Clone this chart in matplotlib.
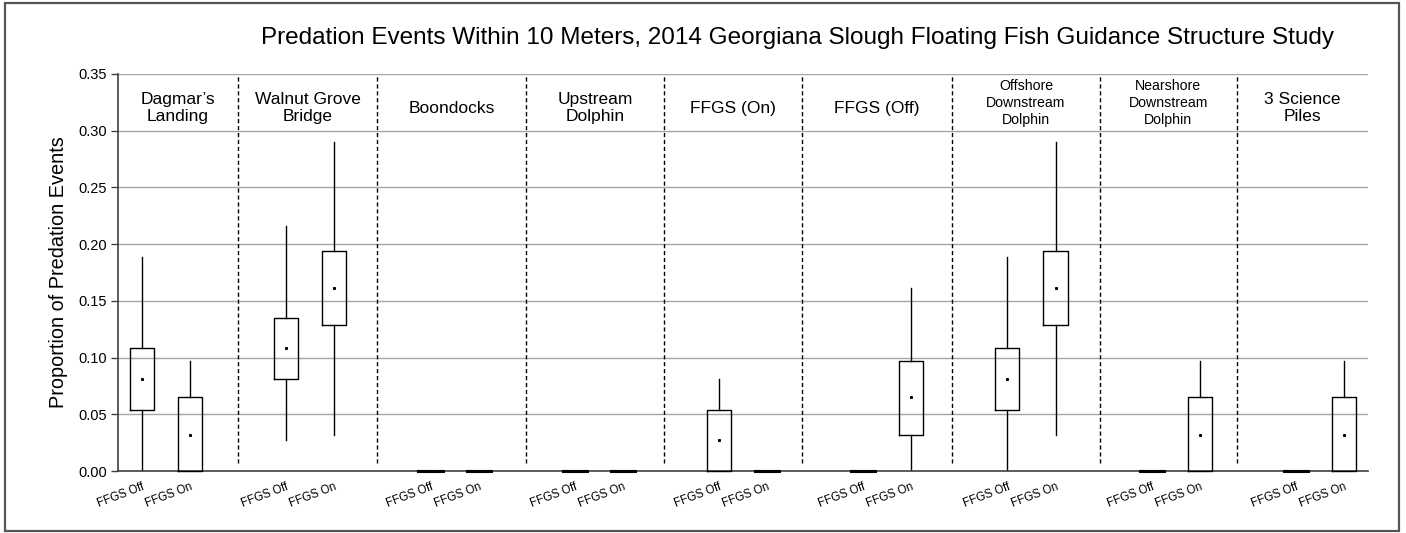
import matplotlib
matplotlib.use("Agg")
import matplotlib.pyplot as plt
from matplotlib.patches import Rectangle

plt.rcParams['font.family'] = ['Liberation Sans', 'DejaVu Sans']

title = "Predation Events Within 10 Meters, 2014 Georgiana Slough Floating Fish Guidance Structure Study"
ylabel = "Proportion of Predation Events"
groups = ["Dagmar\u2019s\nLanding", "Walnut Grove\nBridge", "Boondocks", "Upstream\nDolphin",
          "FFGS (On)", "FFGS (Off)", "Offshore\nDownstream\nDolphin",
          "Nearshore\nDownstream\nDolphin", "3 Science\nPiles"]
conditions = ["FFGS Off", "FFGS On"]

# five-number summaries per group: [whislo, q1, median, q3, whishi]
off_stats = [
    [0.000, 0.054, 0.081, 0.108, 0.189],
    [0.027, 0.081, 0.108, 0.135, 0.216],
    [0.000, 0.000, 0.000, 0.000, 0.000],
    [0.000, 0.000, 0.000, 0.000, 0.000],
    [0.000, 0.000, 0.027, 0.054, 0.081],
    [0.000, 0.000, 0.000, 0.000, 0.000],
    [0.000, 0.054, 0.081, 0.108, 0.189],
    [0.000, 0.000, 0.000, 0.000, 0.000],
    [0.000, 0.000, 0.000, 0.000, 0.000],
]
on_stats = [
    [0.000, 0.000, 0.032, 0.065, 0.097],
    [0.032, 0.129, 0.161, 0.194, 0.290],
    [0.000, 0.000, 0.000, 0.000, 0.000],
    [0.000, 0.000, 0.000, 0.000, 0.000],
    [0.000, 0.000, 0.000, 0.000, 0.000],
    [0.000, 0.032, 0.065, 0.097, 0.161],
    [0.032, 0.129, 0.161, 0.194, 0.290],
    [0.000, 0.000, 0.032, 0.065, 0.097],
    [0.000, 0.000, 0.032, 0.065, 0.097],
]
yticks = [0.00, 0.05, 0.10, 0.15, 0.20, 0.25, 0.30, 0.35]

# separator positions (slot units) and label styling
separators = [2.0, 4.89, 7.99, 10.86, 13.73, 16.85, 19.92, 22.77]
label_sizes = [12.5, 12.5, 12.5, 12.5, 12.5, 12.5, 10.2, 10.2, 12.5]
label_spacing = [1.2, 1.2, 1.2, 1.2, 1.2, 1.2, 1.3, 1.3, 1.2]
label_y = [0.320, 0.320, 0.320, 0.320, 0.320, 0.320, 0.3245, 0.3245, 0.320]

fig = plt.figure(figsize=(14.06, 5.33), dpi=100)
ax = fig.add_axes([0.0839, 0.1163, 0.973 - 0.0839, 0.8612 - 0.1163])

stats = []
positions = []
for i in range(len(groups)):
    for j, s in enumerate([off_stats[i], on_stats[i]]):
        stats.append(dict(whislo=s[0], q1=s[1], med=s[2], q3=s[3], whishi=s[4],
                          fliers=[], label=conditions[j]))
        positions.append(3 * i + j)

art = ax.bxp(stats, positions=positions, widths=0.5, showcaps=False, showfliers=False,
             boxprops=dict(color='black', linewidth=1.0),
             whiskerprops=dict(color='black', linewidth=1.0),
             medianprops=dict(visible=False), manage_ticks=False)
for box, s in zip(art['boxes'], stats):
    box.set_zorder(3)
    box.set_clip_on(False)
    if s['q1'] == s['q3']:
        box.set_linewidth(2.2)
ax.plot(positions, [s['med'] for s in stats], linestyle='none', marker='s',
        markersize=1.2, color='black', zorder=4)

ax.set_xlim(-0.5, 25.5)
ax.set_ylim(0, 0.35)
ax.set_yticks(yticks)
ax.set_yticklabels([f"{v:.2f}" for v in yticks], fontsize=10.5)
ax.set_xticks(positions)
ax.set_xticklabels([c for _ in groups for c in conditions], rotation=21,
                   ha='right', rotation_mode='anchor', fontsize=8.3)
ax.tick_params(axis='x', length=0, pad=7)
ax.tick_params(axis='y', length=5, width=1, color='#404040', direction='out', pad=3)

ax.grid(axis='y', color='#a6a6a6', linewidth=1)
ax.set_axisbelow(True)
for side in ['top', 'right']:
    ax.spines[side].set_visible(False)
for side in ['left', 'bottom']:
    ax.spines[side].set_color('#404040')
    ax.spines[side].set_linewidth(1.2)

for sx in separators:
    ax.plot([sx, sx], [0.007, 0.35], color='black', linestyle=(0, (3, 2)), linewidth=1)

bounds = [-0.5] + separators + [25.5]
for i, g in enumerate(groups):
    cx = (bounds[i] + bounds[i + 1]) / 2
    ax.text(cx, label_y[i], g, ha='center', va='center', fontsize=label_sizes[i],
            linespacing=label_spacing[i])

ax.set_ylabel(ylabel, fontsize=14.3, labelpad=7)
fig.text(0.567, 0.928, title, ha='center', va='center', fontsize=17.5)

fig.patches.append(Rectangle((0.0036, 0.003), 0.9915, 0.991, transform=fig.transFigure,
                             fill=False, edgecolor='#555555', linewidth=1.6))

fig.savefig("out.png", dpi=100)
